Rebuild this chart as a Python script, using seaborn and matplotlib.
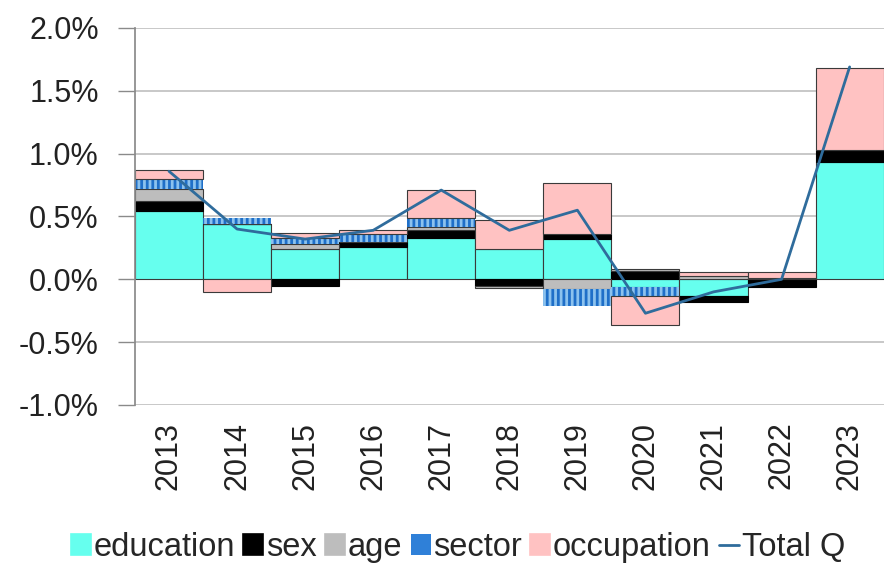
import numpy as np
import matplotlib
matplotlib.use("Agg")
import matplotlib.pyplot as plt
import seaborn as sns
from matplotlib.patches import Patch
from matplotlib.lines import Line2D

# decomposition of the change, in percentage points
years = ['2013', '2014', '2015', '2016', '2017', '2018', '2019', '2020', '2021', '2022', '2023']
education = [0.54, 0.44, 0.24, 0.26, 0.33, 0.24, 0.32, -0.06, -0.13, 0.00, 0.93]
sex = [0.08, 0.00, -0.05, 0.04, 0.06, -0.05, 0.04, 0.07, -0.05, -0.06, 0.10]
age = [0.10, 0.00, 0.04, 0.00, 0.03, -0.02, -0.08, 0.015, 0.03, 0.01, 0.00]
sector = [0.08, 0.05, 0.05, 0.06, 0.07, 0.00, -0.13, -0.07, 0.00, 0.00, 0.00]
occupation = [0.07, -0.10, 0.04, 0.03, 0.22, 0.23, 0.41, -0.23, 0.03, 0.05, 0.65]
total_q = [0.86, 0.40, 0.32, 0.39, 0.71, 0.39, 0.55, -0.27, -0.10, 0.00, 1.69]

series = [
    ('education', education, dict(color='#66FFEE', edgecolor='#3a3a3a', linewidth=0.8)),
    ('sex', sex, dict(color='#000000', edgecolor='#000000', linewidth=0.8)),
    ('age', age, dict(color='#BDBDBD', edgecolor='#3a3a3a', linewidth=0.8)),
    ('sector', sector, dict(color='#8CC2EE', edgecolor='#1F6FC8', linewidth=0, hatch='|||')),
    ('occupation', occupation, dict(color='#FFC2C2', edgecolor='#3a3a3a', linewidth=0.8)),
]

sns.set_theme(style='white')
plt.rcParams['font.family'] = ['Liberation Sans', 'DejaVu Sans']
plt.rcParams['hatch.linewidth'] = 2.0

fig = plt.figure(figsize=(8.85, 5.73), dpi=100)
ax = fig.add_axes([0.1525, 0.2932, 0.846, 0.658])

x = np.arange(len(years))
pos_cum = np.zeros(len(years))
neg_cum = np.zeros(len(years))
handles = []
for name, vals, style in series:
    v = np.array(vals, dtype=float)
    bottom = np.where(v >= 0, pos_cum, neg_cum)
    ax.bar(x, v, width=1.0, bottom=bottom, zorder=2, **style)
    pos_cum = pos_cum + np.where(v >= 0, v, 0)
    neg_cum = neg_cum + np.where(v < 0, v, 0)
    # legend squares get a visible outline like the original
    leg_style = dict(style)
    if name == 'sector':
        leg_style.update(color='#2F80D8', edgecolor='#9CCBF5', hatch='||')
    else:
        leg_style.update(edgecolor='#333333', linewidth=1.2)
    handles.append(Patch(label=name, **leg_style))

sns.lineplot(x=x, y=total_q, color='#2F6C9C', linewidth=2, ax=ax, zorder=3, legend=False)
handles.append(Line2D([], [], color='#2F6C9C', linewidth=2, label='Total Q'))

ax.set_xlim(-0.5, len(years) - 0.5)
ax.set_ylim(-1.0, 2.0)
ticks = np.arange(-1.0, 2.01, 0.5)
ax.set_yticks(ticks)
ax.set_yticklabels([f'{t:.1f}%' for t in ticks], fontsize=22, color='#222222')
ax.set_xticks(x)
ax.set_xticklabels(years, rotation=90, fontsize=22, color='#222222')
ax.tick_params(axis='y', length=12, width=1, color='#8a8a8a', pad=14, left=True)
ax.tick_params(axis='x', length=0, pad=12)
ax.grid(axis='y', color='#BFBFBF', linewidth=1.2)
ax.set_axisbelow(True)
for s in ['top', 'right', 'bottom']:
    ax.spines[s].set_visible(False)
ax.spines['left'].set_color('#8a8a8a')
ax.set_xlabel('')
ax.set_ylabel('')

fig.legend(handles=handles, loc='center', bbox_to_anchor=(0.5175, 0.044), ncol=6, frameon=False,
           fontsize=23.5, handlelength=0.62, handleheight=0.62, handletextpad=0.08,
           columnspacing=0.25, borderaxespad=0, borderpad=0)

fig.savefig('out.png', dpi=100)
